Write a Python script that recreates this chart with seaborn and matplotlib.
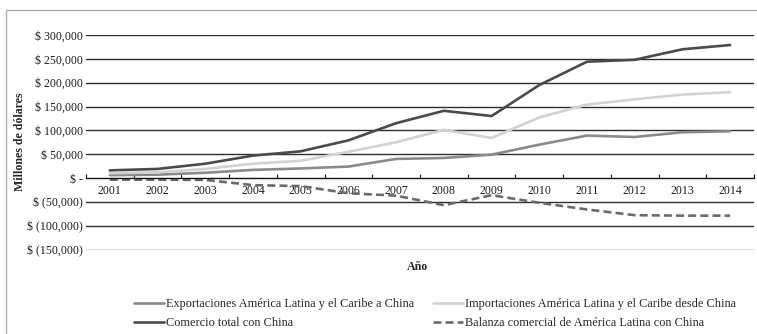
import matplotlib
matplotlib.use("Agg")
import matplotlib.pyplot as plt
import matplotlib.patches as mpatches
from matplotlib.ticker import FixedLocator, FuncFormatter
import seaborn as sns
import pandas as pd

years = [str(y) for y in range(2001, 2015)]
exportaciones = [6, 7, 11, 17, 20, 24, 40, 42, 49, 70, 89, 86, 96, 98]
importaciones = [10, 12, 19, 30, 36, 55, 75, 101, 84, 127, 154, 165, 175, 180]
comercio_total = [16, 19, 30, 47, 56, 79, 115, 141, 130, 195, 244, 248, 270, 279]
balanza = [-3.5, -3.5, -4, -15, -17, -32, -37, -57, -36, -52, -66, -78, -79, -79]

labels = [
    "Exportaciones América Latina y el Caribe a China",
    "Comercio total con China",
    "Importaciones América Latina y el Caribe desde China",
    "Balanza comercial de América Latina con China",
]

sns.set_theme(style="white")
plt.rcParams["font.family"] = ["Liberation Serif", "DejaVu Serif"]

FS = 8.6

fig = plt.figure(figsize=(7.57, 3.34), dpi=100)
ax = fig.add_axes([86 / 757, 1 - 249.5 / 334, (754 - 86) / 757, (249.5 - 35) / 334])

x = list(range(len(years)))
df = pd.DataFrame({"x": x,
                   "exp": [v * 1000 for v in exportaciones],
                   "imp": [v * 1000 for v in importaciones],
                   "tot": [v * 1000 for v in comercio_total],
                   "bal": [v * 1000 for v in balanza]})

lw = 1.9
sns.lineplot(data=df, x="x", y="exp", ax=ax, color="#8a8a8a", lw=lw, label=labels[0])
sns.lineplot(data=df, x="x", y="tot", ax=ax, color="#4a4a4a", lw=lw, label=labels[1])
sns.lineplot(data=df, x="x", y="imp", ax=ax, color="#d2d2d2", lw=lw, label=labels[2])
sns.lineplot(data=df, x="x", y="bal", ax=ax, color="#6a6a6a", lw=lw, label=labels[3],
             linestyle=(0, (3, 1.6)))

ax.set_xlim(-0.5, len(years) - 0.5)
ax.set_ylim(-150000, 300000)

# horizontal gridlines
yt = list(range(-150000, 300001, 50000))
for v in yt:
    if v != 0:
        ax.axhline(v, color="#2e2e2e", lw=1.0, zorder=0)

def money(v, pos):
    if v == 0:
        return "$ -"
    if v < 0:
        return "$ ({:,.0f})".format(-v)
    return "$ {:,.0f}".format(v)

ax.yaxis.set_major_locator(FixedLocator(yt))
ax.yaxis.set_major_formatter(FuncFormatter(money))
ax.tick_params(axis="y", length=0, pad=2, labelsize=FS, colors="#1e1e1e")

for s in ["top", "right", "left"]:
    ax.spines[s].set_visible(False)
ax.spines["bottom"].set_position(("data", 0))
ax.spines["bottom"].set_color("#111111")
ax.spines["bottom"].set_linewidth(1.0)

ax.set_xticks(x)
ax.set_xticklabels(years)
ax.set_xticks([i - 0.5 for i in range(len(years) + 1)], minor=True)
ax.tick_params(axis="x", which="major", length=0, pad=5, labelsize=FS, colors="#1e1e1e")
ax.tick_params(axis="x", which="minor", direction="in", length=3, width=0.8,
               color="#111111", bottom=True)

ax.set_xlabel("")
ax.set_ylabel("")
fig.text(20 / 757, 1 - 142 / 334, "Millones de dólares", rotation=90,
         ha="center", va="center", fontsize=FS, fontweight="bold")
fig.text(418 / 757, 1 - 267 / 334, "Año", ha="center", va="center",
         fontsize=FS, fontweight="bold")

leg = ax.legend(loc="upper left", bbox_to_anchor=(129 / 757, 1 - 293 / 334),
                bbox_transform=fig.transFigure, ncol=2, frameon=False,
                fontsize=8.8, handlelength=2.5, handletextpad=0.1,
                columnspacing=1.55, labelspacing=0.62, borderaxespad=0)

# outer frame
fig.patches.append(mpatches.Rectangle((6 / 757, -0.05), 1.1, 1 - 10 / 334 + 0.05,
                                      transform=fig.transFigure, fill=False,
                                      edgecolor="#b0b0b0", lw=1.0))

fig.savefig("out.png", dpi=100)
